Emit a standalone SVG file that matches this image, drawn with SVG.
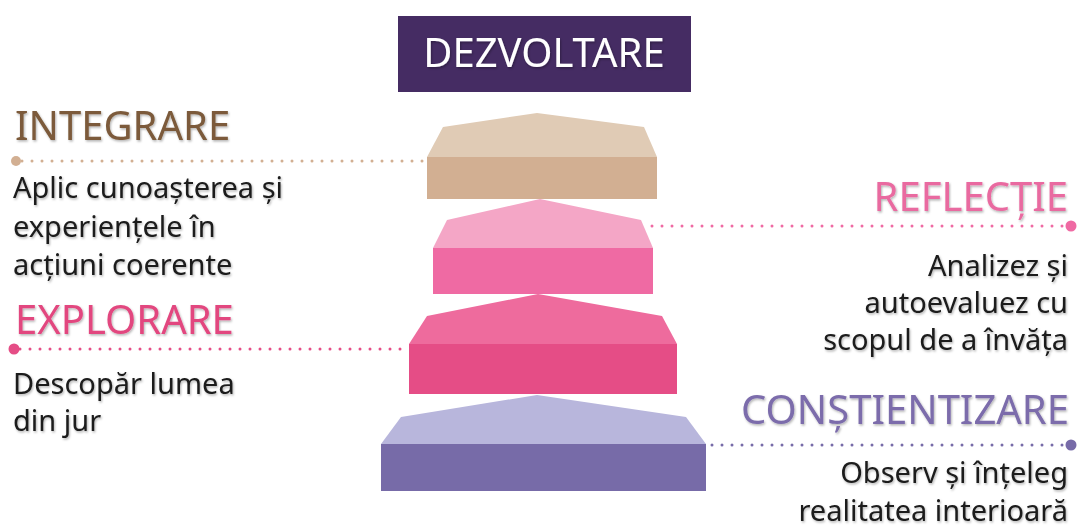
<svg xmlns="http://www.w3.org/2000/svg" width="1082" height="529" viewBox="0 0 1082 529">
<defs>
<style>
.hd{font-family:"Noto Sans","Open Sans",sans-serif;font-size:40px;}
.ds{font-family:"Noto Sans","Open Sans",sans-serif;font-size:29px;fill:#1a1a1a;}
.dot{fill:none;stroke-width:3;stroke-linecap:round;stroke-dasharray:0 10;}
</style>
<filter id="sh" x="-5%" y="-20%" width="110%" height="140%">
<feDropShadow dx="1" dy="1.5" stdDeviation="1" flood-color="#000" flood-opacity="0.3"/>
</filter>
</defs>
<rect width="1082" height="529" fill="#ffffff"/>

<g id="title">
<rect x="398" y="16" width="293" height="76" fill="#452c63"/>
<text x="544" y="67" text-anchor="middle" class="hd" fill="#ffffff" filter="url(#sh)">DEZVOLTARE</text>
</g>

<g id="connectors">
<line x1="22" y1="161" x2="427" y2="161" class="dot" stroke="#d2af92"/>
<circle cx="16" cy="161" r="5" fill="#d2af92"/>
<line x1="652" y1="226" x2="1066" y2="226" class="dot" stroke="#ef6aa3"/>
<circle cx="1071" cy="226" r="5.5" fill="#ef6aa3"/>
<line x1="20" y1="349" x2="409" y2="349" class="dot" stroke="#e54d86"/>
<circle cx="14" cy="349" r="5.5" fill="#e54d86"/>
<line x1="712" y1="445" x2="1066" y2="445" class="dot" stroke="#776ba8"/>
<circle cx="1071" cy="445" r="5.5" fill="#776ba8"/>
</g>

<g id="tier-integrare">
<polygon points="537,113 644,127 657,157 427,157 443,127" fill="#e0cbb5"/>
<rect x="427" y="157" width="230" height="42" fill="#d2af92"/>
</g>
<g id="tier-reflectie">
<polygon points="540,199 641,220 653,248 433,248 447,220" fill="#f4a6c6"/>
<rect x="433" y="248" width="220" height="46" fill="#ef6aa3"/>
</g>
<g id="tier-explorare">
<polygon points="538,294 662,316 677,344 409,344 427,316" fill="#ee6b9d"/>
<rect x="409" y="344" width="268" height="50" fill="#e54d86"/>
</g>
<g id="tier-constientizare">
<polygon points="537,395 686,417 706,444 381,444 401,417" fill="#b8b6dc"/>
<rect x="381" y="444" width="325" height="47" fill="#776ba8"/>
</g>

<g id="label-integrare" filter="url(#sh)">
<text x="15" y="140" class="hd" fill="#7b5a3a">INTEGRARE</text>
<text class="ds"><tspan x="13" y="198">Aplic cunoașterea și</tspan><tspan x="13" y="237">experiențele în</tspan><tspan x="13" y="275">acțiuni coerente</tspan></text>
</g>
<g id="label-reflectie" filter="url(#sh)">
<text x="1068" y="211" text-anchor="end" class="hd" fill="#e96aa0">REFLECȚIE</text>
<text class="ds" text-anchor="end"><tspan x="1068" y="276">Analizez și</tspan><tspan x="1068" y="313">autoevaluez cu</tspan><tspan x="1068" y="350">scopul de a învăța</tspan></text>
</g>
<g id="label-explorare" filter="url(#sh)">
<text x="15" y="334" class="hd" fill="#e2477f">EXPLORARE</text>
<text class="ds"><tspan x="13" y="394">Descopăr lumea</tspan><tspan x="13" y="431">din jur</tspan></text>
</g>
<g id="label-constientizare" filter="url(#sh)">
<text x="1069" y="424" text-anchor="end" class="hd" fill="#7b6cab">CONȘTIENTIZARE</text>
<text class="ds" text-anchor="end"><tspan x="1068" y="483">Observ și înțeleg</tspan><tspan x="1068" y="521">realitatea interioară</tspan></text>
</g>
</svg>
